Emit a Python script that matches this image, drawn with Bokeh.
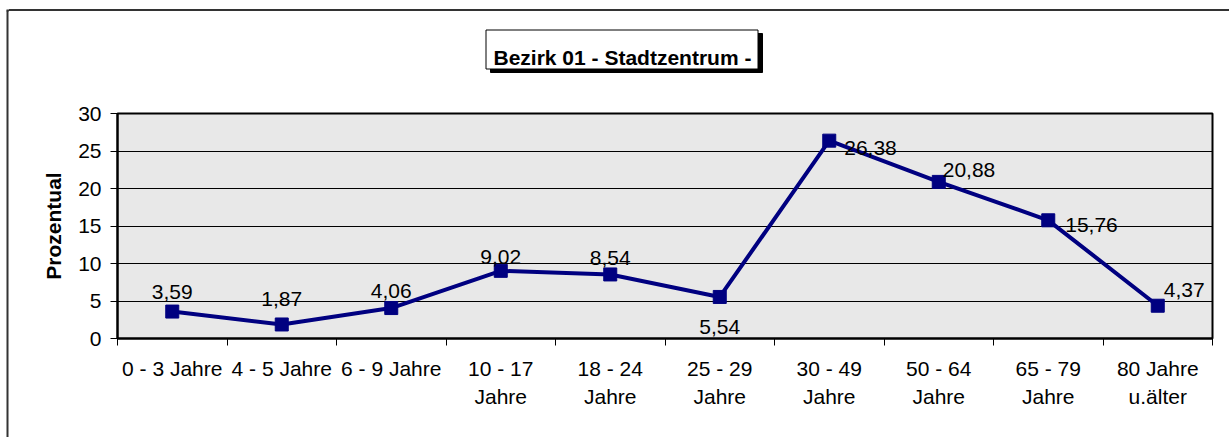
from bokeh.plotting import figure
from bokeh.layouts import row, column
from bokeh.models import ColumnDataSource, FixedTicker, CDSView, IndexFilter, Div
from bokeh.core.properties import value
from bokeh.embed import file_html
from bokeh.resources import INLINE

# ---- data ----
categories = ["0 - 3 Jahre", "4 - 5 Jahre", "6 - 9 Jahre", "10 - 17\nJahre", "18 - 24\nJahre",
              "25 - 29\nJahre", "30 - 49\nJahre", "50 - 64\nJahre", "65 - 79\nJahre", "80 Jahre\nu.älter"]
values = [3.59, 1.87, 4.06, 9.02, 8.54, 5.54, 26.38, 20.88, 15.76, 4.37]
value_labels = ["3,59", "1,87", "4,06", "9,02", "8,54", "5,54", "26,38", "20,88", "15,76", "4,37"]
y_ticks = [0, 5, 10, 15, 20, 25, 30]
title_text = "Bezirk 01 - Stadtzentrum -"
y_title = "Prozentual"

# ---- label placement (style) ----
lab_dx = [0, 0, 0, 0, 0, 0, 15, 4, 17, 6]
lab_dy = [20, 25, 17, 14, 16, -30, -7, 12, -5, 16]
left_aligned = [6, 7, 8, 9]
centered = [i for i in range(len(values)) if i not in left_aligned]

FONT = "Liberation Sans"
NAVY = "#000080"
BORDER = "#333333"

W, H = 1229, 437
STRIP = 9          # left strip holding the outer chart border
LINE_H = 12        # strip holding the outer top border
TOP = 80           # bottom of the title area
FL, FR, FT, FB = 117, 1212, 113, 338   # frame edges on the page
YMAX = 30
n = len(categories)
xs = [i + 0.5 for i in range(n)]
MW = W - STRIP

# ---------------- left strip (outer border) ----------------
s = figure(width=STRIP, height=H, x_range=(0, STRIP), y_range=(H, 0),
           output_backend="svg", toolbar_location=None, min_border=0,
           x_axis_location=None, y_axis_location=None)
s.outline_line_color = None
s.grid.visible = False
s.background_fill_color = "white"
s.border_fill_color = "white"
s.segment(x0=[7, 6], y0=[10, 10], x1=[7, STRIP], y1=[H, 10], line_color=BORDER, line_width=2)

# ---------------- top border line (2px bar, 9px above, 1px below) ----------------
top_line = Div(width=MW, height=2, margin=(9, 0, LINE_H - 11, 0), text="",
               styles={"background-color": BORDER})

# ---------------- title strip (same frame as the chart) ----------------
t = figure(width=MW, height=TOP - LINE_H, x_range=(FL, FR), y_range=(TOP, LINE_H),
           output_backend="svg", toolbar_location=None,
           min_border_left=FL - STRIP, min_border_right=W - FR, min_border_top=0, min_border_bottom=0,
           x_axis_location=None, y_axis_location=None)
t.outline_line_color = None
t.grid.visible = False
t.background_fill_color = "white"
t.border_fill_color = "white"
bx0, bx1, by0, by1 = 485, 757, 29, 68
t.quad(left=[bx0 + 5], right=[bx1 + 5], top=[by0 + 4], bottom=[by1 + 4],
       fill_color="black", line_color="black")
t.quad(left=[bx0 + 0.5], right=[bx1 + 0.5], top=[by0 + 0.5], bottom=[by1 + 0.5],
       fill_color="white", line_color="black", line_width=1)
t.text(x=[bx0 + 8], y=[57], text=[title_text], text_align="left",
       text_baseline="alphabetic", text_font=value(FONT), text_font_size="21px",
       text_font_style="bold", text_color="black")

# ---------------- main chart ----------------
p = figure(width=MW, height=H - TOP, x_range=(0, n), y_range=(0, YMAX),
           output_backend="svg", toolbar_location=None,
           min_border_left=FL - STRIP, min_border_right=W - FR,
           min_border_top=FT - TOP, min_border_bottom=H - FB)
p.border_fill_color = "white"
p.background_fill_color = "#e8e8e8"
p.outline_line_color = "black"
p.outline_line_width = 2

p.yaxis.ticker = FixedTicker(ticks=y_ticks)
p.yaxis.axis_line_color = "black"
p.yaxis.axis_line_width = 2
p.yaxis.major_tick_out = 7
p.yaxis.major_tick_in = 0
p.yaxis.minor_tick_out = 0
p.yaxis.minor_tick_in = 0
p.yaxis.major_tick_line_color = "black"
p.yaxis.major_label_text_font = FONT
p.yaxis.major_label_text_font_size = "21px"
p.yaxis.major_label_text_color = "black"
p.yaxis.major_label_standoff = 9
p.yaxis.axis_label = y_title
p.yaxis.axis_label_text_font = FONT
p.yaxis.axis_label_text_font_size = "21px"
p.yaxis.axis_label_text_font_style = "bold"
p.yaxis.axis_label_text_color = "black"
p.yaxis.axis_label_standoff = 10

p.xaxis.ticker = FixedTicker(ticks=xs, minor_ticks=list(range(n + 1)))
p.xaxis.major_label_overrides = {x: c for x, c in zip(xs, categories)}
p.xaxis.axis_line_color = "black"
p.xaxis.axis_line_width = 2
p.xaxis.major_tick_out = 0
p.xaxis.major_tick_in = 0
p.xaxis.minor_tick_out = 7
p.xaxis.minor_tick_in = 0
p.xaxis.minor_tick_line_color = "black"
p.xaxis.major_label_text_font = FONT
p.xaxis.major_label_text_font_size = "21px"
p.xaxis.major_label_text_color = "black"
p.xaxis.major_label_text_line_height = 1.25
p.xaxis.major_label_standoff = 11

p.xgrid.grid_line_color = None
p.ygrid.ticker = FixedTicker(ticks=y_ticks)
p.ygrid.grid_line_color = "black"
p.ygrid.grid_line_width = 1

src = ColumnDataSource(dict(x=xs, y=values, t=value_labels, dx=lab_dx,
                            dy=[-d for d in lab_dy]))

p.line("x", "y", source=src, line_color=NAVY, line_width=4)
p.scatter("x", "y", source=src, marker="square", size=13, fill_color=NAVY, line_color=NAVY)

p.text("x", "y", text="t", source=src, view=CDSView(filter=IndexFilter(centered)),
       x_offset="dx", y_offset="dy", text_align="center", text_baseline="alphabetic",
       text_font=value(FONT), text_font_size="21px", text_color="black")
p.text("x", "y", text="t", source=src, view=CDSView(filter=IndexFilter(left_aligned)),
       x_offset="dx", y_offset="dy", text_align="left", text_baseline="alphabetic",
       text_font=value(FONT), text_font_size="21px", text_color="black")

layout = row(s, column(top_line, t, p, spacing=0), spacing=0)
open("out.html", "w").write(file_html(layout, INLINE))
